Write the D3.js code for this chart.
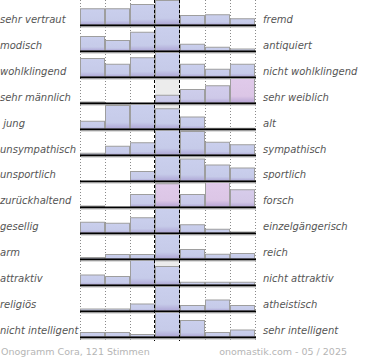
<!DOCTYPE html>
<html><head><meta charset="utf-8">
<script src="https://cdn.jsdelivr.net/npm/d3@7"></script>
<style>html,body{margin:0;padding:0;background:#fff;}svg{display:block;} text{white-space:pre;}</style>
</head><body>
<svg id="chart" width="370" height="360"></svg>
<script>
const leftLabels = ["sehr vertraut","modisch","wohlklingend","sehr männlich"," jung","unsympathisch","unsportlich","zurückhaltend","gesellig","arm","attraktiv","religiös","nicht intelligent"];
const rightLabels = ["fremd","antiquiert","nicht wohlklingend","sehr weiblich","alt","sympathisch","sportlich","forsch","einzelgängerisch","reich","nicht attraktiv","atheistisch","sehr intelligent"];
// relative bar heights per row (row maximum = 100), 7 steps from left to right
const values = [
  [67,67,84,100,40,43,27],
  [60,44,77,100,29,17,10],
  [76,53,79,100,53,33,53],
  [6,0,0,33,56,71,100],
  [33,96,100,83,50,5,5],
  [9,37,51,100,96,53,43],
  [0,0,40,100,90,66,54],
  [6,0,52,95,52,100,71],
  [45,41,63,100,35,17,6],
  [8,20,20,100,40,21,24],
  [42,36,100,76,13,13,13],
  [10,10,30,100,24,46,24],
  [20,20,12,100,68,20,30]
];
// share of female votes shown as pink tint (0 = blue, 1 = pink)
const tint = [
  [0,0,0,0,0,0,0],
  [0,0,0,0,0,0,0],
  [0,0,0,0,0,0,0],
  [0,0,0,0.2,0.2,0.35,1],
  [0,0,0,0,0,0,0],
  [0,0,0,0,0,0,0],
  [0,0,0,0,0,0,0],
  [0,0,0.1,1,0.15,1,0.6],
  [0,0,0,0,0,0,0],
  [0,0,0,0,0,0,0],
  [0,0,0,0,0,0,0],
  [0,0,0,0,0,0,0],
  [0,0,0,0,0,0,0]
];
const steps = [0,1,2,3,4,5,6];
const footerLeft = "Onogramm Cora, 121 Stimmen";
const footerRight = "onomastik.com - 05 / 2025";

const svg = d3.select("#chart");
const x = d3.scaleBand().domain(steps).range([80,255]).padding(0);
const rowScale = d3.scaleBand().domain(d3.range(leftLabels.length)).range([0,338]).padding(0);
const barMax = 25;

const blue = "#c6cbe9", pink = "#dcc6e6";
const colorOf = t => d3.interpolateRgb(blue, pink)(t);

const defs = svg.append("defs");
const tintKeys = Array.from(new Set(tint.flat()));
tintKeys.forEach((t,i) => {
  const g = defs.append("linearGradient").attr("id","g"+i).attr("x1",0).attr("y1",0).attr("x2",0).attr("y2",1);
  const c = colorOf(t);
  g.append("stop").attr("offset","0%").attr("stop-color", d3.color(c).brighter(0.05));
  g.append("stop").attr("offset","72%").attr("stop-color", c);
  g.append("stop").attr("offset","100%").attr("stop-color", d3.interpolateRgb(c, "#9c8cc8")(0.6));
});
const gradId = t => "url(#g" + tintKeys.indexOf(t) + ")";

// vertical dotted grid lines
const gridX = [0,1,2,5,6].map(d => x(d)).concat([x(6)+x.bandwidth()]);
svg.append("g").selectAll("line").data(gridX).join("line")
  .attr("x1", d => d + 0.5).attr("x2", d => d + 0.5)
  .attr("y1", 0).attr("y2", 341)
  .attr("stroke", "#8a8a8a").attr("stroke-width", 1).attr("stroke-dasharray", "1,2");

// grey neutral background in middle column
svg.append("g").selectAll("rect").data(leftLabels.map((d,i)=>i)).join("rect")
  .attr("x", x(3)).attr("width", x.bandwidth())
  .attr("y", i => rowScale(i) + rowScale.bandwidth() - 1 - barMax)
  .attr("height", barMax)
  .attr("fill", "#ececec");

const rows = svg.append("g").selectAll("g").data(values).join("g");
rows.each(function(vals, i) {
  const base = rowScale(i) + rowScale.bandwidth() - 1;
  const y = d3.scaleLinear().domain([0, 100]).range([base, base - barMax]);
  const g = d3.select(this);
  g.selectAll("rect.bar").data(vals.map((v,j)=>({v, j}))).join("rect")
    .attr("class","bar")
    .attr("x", d => x(d.j) + 0.5)
    .attr("width", x.bandwidth() - 1)
    .attr("y", d => y(d.v) + 0.5)
    .attr("height", d => Math.max(0, base - y(d.v) - 0.5))
    .attr("fill", d => gradId(tint[i][d.j]))
    .attr("stroke", d => d.v > 0 ? "#9e9e9e" : "none")
    .attr("stroke-width", 1);
  g.append("line").attr("x1", x(0)).attr("x2", x(6) + x.bandwidth() + 1)
    .attr("y1", base + 0.5).attr("y2", base + 0.5)
    .attr("stroke", "#000").attr("stroke-width", 2);
  g.append("line").attr("x1", x(0)+1).attr("x2", x(6) + x.bandwidth() + 1)
    .attr("y1", base + 2).attr("y2", base + 2)
    .attr("stroke", "#bbb").attr("stroke-width", 1);
});

// dashed middle lines
svg.append("g").selectAll("line").data([x(3), x(4)]).join("line")
  .attr("x1", d => d - 0.5).attr("x2", d => d - 0.5)
  .attr("y1", 0).attr("y2", 341)
  .attr("stroke", "#000").attr("stroke-width", 1).attr("stroke-dasharray", "3,2");

const labelFont = "'DejaVu Sans', sans-serif";
svg.append("g").selectAll("text").data(leftLabels).join("text")
  .attr("x", 0).attr("y", (d,i) => rowScale(i) + rowScale.bandwidth() - 3 - i*0.1)
  .attr("font-family", labelFont).attr("font-style","italic").attr("font-size", 10)
  .attr("fill", "#555").text(d => d);
svg.append("g").selectAll("text").data(rightLabels).join("text")
  .attr("x", 263).attr("y", (d,i) => rowScale(i) + rowScale.bandwidth() - 3 - i*0.1)
  .attr("font-family", labelFont).attr("font-style","italic").attr("font-size", 10)
  .attr("fill", "#555").text(d => d);

svg.append("text").attr("x", 1).attr("y", 355)
  .attr("font-family", labelFont).attr("font-size", 9.5).attr("fill", "#b5b5b5")
  .text(footerLeft);
svg.append("text").attr("x", 347).attr("y", 355).attr("text-anchor","end")
  .attr("font-family", labelFont).attr("font-size", 9.5).attr("fill", "#b5b5b5")
  .text(footerRight);
</script>
</body></html>
